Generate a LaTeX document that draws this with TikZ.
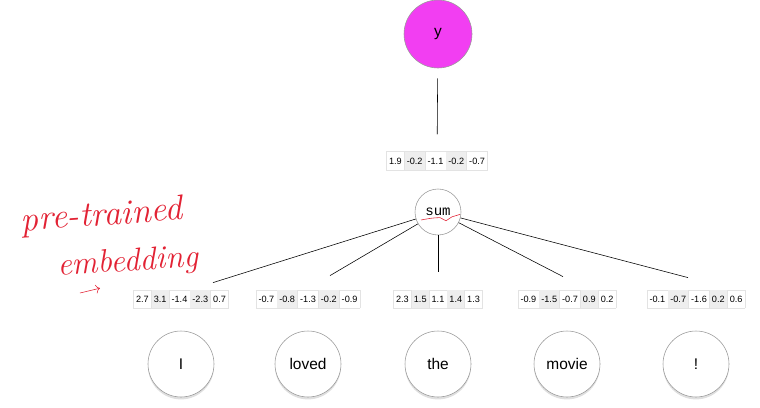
\documentclass[tikz,border=0pt]{standalone}
\usepackage{fontspec}
\setmainfont{Liberation Sans}
\setmonofont{Liberation Mono}
\newfontfamily\handfont{Latin Modern Roman}
\usepackage{colortbl}
\usepackage{tikz}
\usetikzlibrary{
  arrows.meta,
  positioning,
  shadows
}
\definecolor{ypink}{RGB}{242,62,242}
\definecolor{cellgray}{RGB}{238,238,238}
\definecolor{penred}{RGB}{226,34,52}
\newcommand{\embvec}[5]{%
  {\fontsize{6.5}{8}\selectfont
   \arrayrulecolor{gray!22}\setlength{\tabcolsep}{1.6pt}%
   \renewcommand{\arraystretch}{1.6}%
   \begin{tabular}{|c|>{\columncolor{cellgray}}c|c|>{\columncolor{cellgray}}c|c|}
     \hline
     #1 & #2 & #3 & #4 & #5\\
     \hline
   \end{tabular}}}
\tikzset{
  wordnode/.style={circle, draw=gray!80, fill=white, minimum size=1.65cm,
    font=\fontsize{11}{13}\selectfont,
    drop shadow={opacity=0.25, shadow xshift=0pt, shadow yshift=-0.06cm}},
  vecnode/.style={inner sep=0pt, outer sep=0pt},
  conn/.style={thin, black},
  pen/.style={penred, inner sep=0pt, font=\handfont\itshape\fontsize{25}{27}\selectfont},
}

\begin{document}
\begin{tikzpicture}[node distance=0.55cm]
  \useasboundingbox (0,0) rectangle (19,10.175);
  % output and sum
  \node[circle, draw=gray!80, fill=ypink, minimum size=1.7cm,
    font=\fontsize{11}{13}\selectfont] (y) at (10.95,9.325) {y};
  \node[vecnode] (sumvec) at (10.925,6.15) {\embvec{1.9}{-0.2}{-1.1}{-0.2}{-0.7}};
  \node[circle, draw=gray!80, fill=white, minimum size=1.15cm,
    font=\ttfamily\fontsize{10}{12}\selectfont] (sum) at (10.95,4.875) {sum};
  \draw[conn, shorten <=0.25cm, shorten >=0.425cm] (y) -- (sumvec);
  % words
  \node[wordnode] (wI) at (4.525,1.075) {I};
  \node[wordnode] (wloved) at (7.7,1.075) {loved};
  \node[wordnode] (wthe) at (10.95,1.075) {the};
  \node[wordnode] (wmovie) at (14.175,1.075) {movie};
  \node[wordnode] (wbang) at (17.4,1.075) {!};
  \node[vecnode, above=of wI] (vI) {\embvec{2.7}{3.1}{-1.4}{-2.3}{0.7}};
  \node[vecnode, above=of wloved] (vloved) {\embvec{-0.7}{-0.8}{-1.3}{-0.2}{-0.9}};
  \node[vecnode, above=of wthe] (vthe) {\embvec{2.3}{1.5}{1.1}{1.4}{1.3}};
  \node[vecnode, above=of wmovie] (vmovie) {\embvec{-0.9}{-1.5}{-0.7}{0.9}{0.2}};
  \node[vecnode, above=of wbang] (vbang) {\embvec{-0.1}{-0.7}{-1.6}{0.2}{0.6}};
  \draw[conn] (sum) -- ([xshift=0.8cm, yshift=0.175cm]vI.north);
  \draw[conn] (sum) -- ([xshift=0.55cm, yshift=0.35cm]vloved.north);
  \draw[conn] (sum) -- ([yshift=0.45cm]vthe.north);
  \draw[conn] (sum) -- ([xshift=-0.1cm, yshift=0.325cm]vmovie.north);
  \draw[conn] (sum) -- ([xshift=-0.2cm, yshift=0.3cm]vbang.north);
  % hand-written note
  \node[pen, rotate=4] (note1) at (2.55,4.76) {pre-trained};
  \node[pen, rotate=4, font=\handfont\itshape\fontsize{23}{25}\selectfont]
    (note2) at (3.2,3.6) {embedding};
  \draw[penred, thin, -{To[length=3pt]}] (2.0,2.85) -- (2.5,2.97);
  \draw[penred, thin] ([xshift=-0.425cm, yshift=-0.2cm]sum.center)
    .. controls ([xshift=-0.15cm, yshift=-0.15cm]sum.center) .. ([xshift=0.05cm, yshift=-0.14cm]sum.center)
    -- ([xshift=0.2cm, yshift=-0.22cm]sum.center)
    -- ([xshift=0.35cm, yshift=-0.12cm]sum.center)
    -- ([xshift=0.55cm, yshift=-0.06cm]sum.center);
\end{tikzpicture}
\end{document}
